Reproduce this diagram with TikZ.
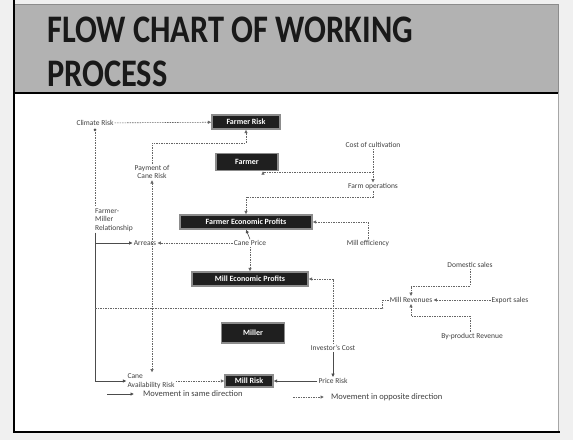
\documentclass[tikz,border=0pt]{standalone}
\usepackage{fontspec}
\setmainfont{Carlito}
\usetikzlibrary{arrows.meta,calc}
\begin{document}
\begin{tikzpicture}[x=1pt,y=-1pt,
  box/.style={draw=black!45, fill=black!88, text=white, font=\bfseries\fontsize{8}{9}\selectfont, inner xsep=3pt, inner ysep=1.5pt, minimum height=14pt, line width=1.2pt},
  lbl/.style={font=\fontsize{7.5}{8.5}\selectfont, text=black!75, align=center, inner sep=1pt},
  leg/.style={font=\fontsize{8.5}{9.5}\selectfont, text=black!75, inner sep=1pt, anchor=west},
  ttl/.style={anchor=base west, inner sep=0pt, font=\bfseries\fontsize{39}{44}\selectfont, text=black!90},
  same/.style={-{Latex[length=3.5pt,width=3.5pt]}, black!70, line width=0.6pt},
  opp/.style={-{Latex[length=3.5pt,width=3.5pt]}, black!60, dash pattern=on 1.5pt off 1pt, line width=0.6pt},
]
\useasboundingbox (0,0) rectangle (573,440);
% page and slide
\fill[black!6] (0,0) rectangle (573,440);
\fill[white] (14,93) rectangle (558,431);
\fill[black!30] (14,4) rectangle (558,93);
\draw[black!45, line width=0.8pt] (14,4) -- (558,4) -- (558,93);
\draw[black!35, line width=0.6pt] (558,93) -- (558,431);
\draw[line width=1.5pt] (14,0) -- (14,432) -- (560,432);
\draw[line width=2pt] (14,93) -- (558,93);
% title
\node[ttl] (t1) at (47,42) {\scalebox{0.83}[1]{FLOW CHART OF WORKING}};
\node[ttl] (t2) at (47,86) {\scalebox{0.83}[1]{PROCESS}};
% nodes
\node[lbl] (climate) at (95,123) {Climate Risk};
\node[box, minimum width=68pt] (frisk) at (246,122) {Farmer Risk};
\node[box, minimum width=62pt, minimum height=17pt] (farmer) at (247,162) {Farmer};
\node[lbl] (payment) at (152,172) {Payment of\\Cane Risk};
\node[lbl] (cost) at (373,145) {Cost of cultivation};
\node[lbl] (farmops) at (373,187) {Farm operations};
\node[lbl, align=left, fill=white] (fmr) at (114,220) {Farmer-\\Miller\\Relationship};
\node[box, minimum width=132pt] (fep) at (246,222) {Farmer Economic Profits};
\node[lbl] (arrears) at (145,243) {Arrears};
\node[lbl] (caneprice) at (250,243) {Cane Price};
\node[lbl] (milleff) at (368,243) {Mill efficiency};
\node[box, minimum width=116pt] (mep) at (250,279) {Mill Economic Profits};
\node[lbl] (domestic) at (470,265) {Domestic sales};
\node[lbl] (millrev) at (411,300) {Mill Revenues};
\node[lbl] (export) at (510,300) {Export sales};
\node[lbl] (byprod) at (472,336) {By-product Revenue};
\node[box, minimum width=63pt, minimum height=20pt] (miller) at (253,333) {Miller};
\node[lbl] (invcost) at (333,348) {Investor's Cost};
\node[lbl] (pricerisk) at (333,381) {Price Risk};
\node[lbl, align=left] (cane) at (151,381) {Cane\\Availability Risk};
\node[box, minimum width=48pt, minimum height=12pt] (millrisk) at (249,381) {Mill Risk};
% junctions
\coordinate (j0) at (246,143);
\coordinate (jc) at (373,172);
\coordinate (jf) at (246,197);
\coordinate (ja) at (95,243);
\coordinate (jl) at (95,308);
% connectors
\draw[opp] (climate) -- (frisk);
\draw[opp] (payment.north) |- (j0) -- (frisk.south);
\draw[{Latex[length=3.5pt,width=3.5pt]}-{Latex[length=3.5pt,width=3.5pt]}, black!60, dash pattern=on 1.5pt off 1pt, line width=0.6pt] (payment.south) -- (payment.south |- cane.north);
\fill[black!70] (climate.south) ++(0,3) circle (1.5pt);
\draw[black!60, dash pattern=on 1.5pt off 1pt, line width=0.6pt] ($(climate.south)+(0,3)$) -- (climate.south |- fmr.north);
\draw[same] (climate.south |- fmr.south) |- (cane.west);
\draw[same] (ja) -- (arrears.west);
\draw[opp] (caneprice.west) -- (arrears.east);
\draw[same] (caneprice.north) -- (fep.south);
\draw[opp] (caneprice.south) -- (mep.north);
\draw[opp] (cost.south) -- (farmops.north);
\draw[opp] (jc) -| ([xshift=16pt]farmer.south);
\draw[opp] (farmops.south) |- (jf) -- (fep.north);
\draw[opp] (milleff.north) |- (fep.east);
\draw[opp] (invcost.north) |- (mep.east);
\draw[same] (invcost.south) -- (pricerisk.north);
\draw[same] (pricerisk.west) -- (millrisk.east);
\draw[opp] (cane.east) -- (millrisk.west);
\draw[opp] (domestic.south) |- ($(millrev.north)+(0,-10)$) -- (millrev.north);
\draw[opp] (export.west) -- (millrev.east);
\draw[opp] (byprod.north -| domestic.south) |- ($(millrev.south)+(0,12)$) -- (millrev.south);
\draw[black!60, dash pattern=on 1.5pt off 1pt, line width=0.6pt] (millrev.west) -- ++(-6,0) |- (jl);
% legend
\coordinate (l1a) at (107,394);
\coordinate (l2a) at (293,397);
\node[leg] (leg1) at (142,394) {Movement in same direction};
\node[leg] (leg2) at (330,397) {Movement in opposite direction};
\draw[same] (l1a) -- ($(leg1.west)+(-8,0)$);
\draw[opp] (l2a) -- ($(leg2.west)+(-6,0)$);
\end{tikzpicture}
\end{document}
